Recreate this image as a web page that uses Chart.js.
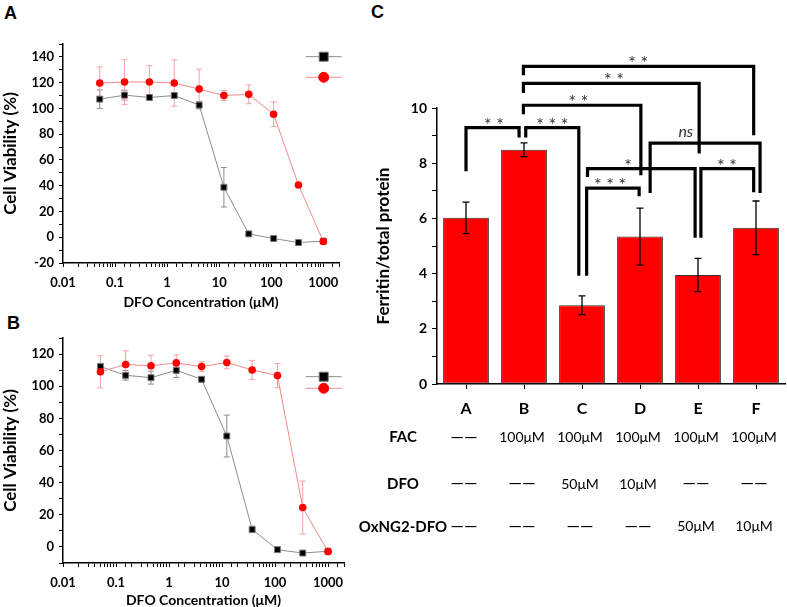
<!DOCTYPE html>
<html>
<head>
<meta charset="utf-8">
<title>DFO viability and ferritin</title>
<script src="https://cdn.jsdelivr.net/npm/chart.js@4.4.1/dist/chart.umd.min.js"></script>
<style>
    body { margin: 0; background: #fff; width: 787px; height: 607px; position: relative; overflow: hidden; }
    canvas { position: absolute; }
    .panel { position: absolute; font: bold 18px "Liberation Sans", Arial, sans-serif; line-height: 1; color: #000; }
</style>
</head>
<body>
<div class="panel" style="left:4px;top:4px">A</div>
<div class="panel" style="left:7px;top:314px">B</div>
<div class="panel" style="left:371px;top:3px">C</div>
<canvas id="chartA" width="370" height="309" style="left:0;top:0"></canvas>
<canvas id="chartB" width="370" height="297" style="left:0;top:310px"></canvas>
<canvas id="chartC" width="447" height="545" style="left:340px;top:0"></canvas>
<script>
// Concentrations (uM), 3-fold dilutions from 1000
const concentrations = [0.0508, 0.152, 0.457, 1.37, 4.12, 12.3, 37.0, 111, 333, 1000];

// Panel A
const dfoA = [107.2, 110.3, 108.5, 110.0, 102.6, 38.8, 2.6, -1.0, -4.1, -3.0];
const dfoErrA = [7.2, 3.8, 1.5, 2, 2.9, 15.3, 1.5, 1, 1, 1];
const oxA = [119.7, 120.5, 120.5, 119.7, 115.0, 110.0, 110.9, 95.5, 40.6, -3.3];
const oxErrA = [12.5, 17.4, 12.7, 18, 15.4, 3.9, 7.3, 9.6, 1.5, 1];

// Panel B
const dfoB = [112.2, 106.8, 105.3, 109.9, 104.3, 69.0, 10.9, -1.7, -3.8, -2.7];
const dfoErrB = [2, 3, 4, 4.5, 1.5, 13, 2, 1, 1, 1];
const oxB = [109.0, 113.5, 112.7, 114.5, 112.2, 114.8, 110.1, 106.6, 24.5, -2.9];
const oxErrB = [10, 8.5, 6.5, 5, 3, 4, 6, 7.5, 16.5, 1];

// Panel C
const groups = ['A', 'B', 'C', 'D', 'E', 'F'];
const ferritin = [6.02, 8.49, 2.85, 5.34, 3.95, 5.66];
const ferritinErr = [0.57, 0.25, 0.34, 1.03, 0.60, 0.97];
const rowNames = ['FAC', 'DFO', 'OxNG2-DFO'];
const facRow = ['——', '100μM', '100μM', '100μM', '100μM', '100μM'];
const dfoRow = ['——', '——', '50μM', '10μM', '——', '——'];
const oxRow = ['——', '——', '——', '——', '50μM', '10μM'];

// significance brackets: legs at category positions, bar height and leg ends in axis units
const brackets = [
    { from: 0.0, to: 0.915, y: 9.29, endL: 7.71, endR: 8.93, text: '**', lx: 0.48 },
    { from: 1.03, to: 1.945, y: 9.29, endL: 8.93, endR: 3.92, text: '***', lx: 1.49 },
    { from: 0.99, to: 3.015, y: 10.10, endL: 9.77, endR: 7.56, text: '**', lx: 1.94 },
    { from: 0.99, to: 4.02, y: 10.89, endL: 10.54, endR: 8.35, text: '**', lx: 2.55 },
    { from: 0.99, to: 4.96, y: 11.51, endL: 11.19, endR: 9.01, text: '**', lx: 2.97 },
    { from: 2.08, to: 2.985, y: 7.10, endL: 3.92, endR: 6.80, text: '***', lx: 2.485 },
    { from: 2.095, to: 3.95, y: 7.80, endL: 7.50, endR: 5.30, text: '*', lx: 2.795 },
    { from: 3.175, to: 5.07, y: 8.73, endL: 6.92, endR: 6.92, text: 'ns', lx: 3.79 },
    { from: 4.05, to: 4.96, y: 7.80, endL: 5.30, endR: 6.95, text: '**', lx: 4.5 }
];

const FONT = 'Lato, "Open Sans", sans-serif';

// Error bars drawn through the y scale
function drawErrors(chart) {
    const ctx = chart.ctx;
    const yScale = chart.scales.y;
    chart.data.datasets.forEach((ds, di) => {
        if (!ds.errors) return;
        const meta = chart.getDatasetMeta(di);
        ctx.save();
        ctx.strokeStyle = ds.errorColor;
        ctx.lineWidth = ds.errorWidth || 1;
        meta.data.forEach((el, i) => {
            const raw = ds.data[i];
            const v = typeof raw === 'object' ? raw.y : raw;
            const top = yScale.getPixelForValue(v + ds.errors[i]);
            const bot = yScale.getPixelForValue(v - ds.errors[i]);
            const cw = ds.capWidth || 3;
            ctx.beginPath();
            ctx.moveTo(el.x, top); ctx.lineTo(el.x, bot);
            ctx.moveTo(el.x - cw, top); ctx.lineTo(el.x + cw, top);
            ctx.moveTo(el.x - cw, bot); ctx.lineTo(el.x + cw, bot);
            ctx.stroke();
        });
        ctx.restore();
    });
}

const errorBars = {
    id: 'errorBars',
    beforeDatasetsDraw(chart) { if (chart.config.type === 'line') drawErrors(chart); },
    afterDatasetsDraw(chart) { if (chart.config.type === 'bar') drawErrors(chart); }
};

// Text-less legend: line + marker per dataset
const markerLegend = {
    id: 'markerLegend',
    afterDraw(chart, args, opts) {
        if (!opts.rows) return;
        const ctx = chart.ctx;
        const xc = (opts.x1 + opts.x2) / 2;
        chart.data.datasets.forEach((ds, i) => {
            const y = opts.rows[i];
            ctx.save();
            ctx.strokeStyle = ds.borderColor;
            ctx.lineWidth = 1;
            ctx.beginPath();
            ctx.moveTo(opts.x1, y); ctx.lineTo(opts.x2, y);
            ctx.stroke();
            ctx.fillStyle = ds.pointBackgroundColor;
            ctx.strokeStyle = ds.pointBorderColor;
            Chart.helpers.drawPoint(ctx, {
                pointStyle: ds.pointStyle, radius: ds.pointStyle === 'rect' ? 6.4 : 5,
                rotation: 0, borderWidth: 1
            }, xc, y);
            ctx.restore();
        });
    }
};

function isMultiple(v, step) {
    return Math.abs(v / step - Math.round(v / step)) < 1e-6;
}

function viabilityChart(id, dfo, dfoErr, ox, oxErr, yMin, yMax, pad, xHeight, legendRows) {
    const tickFont = { family: FONT, size: 13, weight: 'bold' };
    return new Chart(document.getElementById(id), {
        type: 'line',
        data: {
            datasets: [{
                data: concentrations.map((c, i) => ({ x: c, y: dfo[i] })),
                errors: dfoErr,
                errorColor: '#8c8c8c',
                borderColor: '#8c8c8c',
                borderWidth: 1,
                pointStyle: 'rect',
                pointRadius: 4.2,
                pointBackgroundColor: '#000',
                pointBorderColor: '#777',
                pointBorderWidth: 1,
                order: 2
            }, {
                data: concentrations.map((c, i) => ({ x: c, y: ox[i] })),
                errors: oxErr,
                errorColor: '#f5a3a3',
                borderColor: '#f08a8a',
                borderWidth: 1,
                pointStyle: 'circle',
                pointRadius: 3.8,
                pointBackgroundColor: '#ff0000',
                pointBorderColor: '#ff0000',
                pointBorderWidth: 0,
                order: 1
            }]
        },
        options: {
            responsive: false,
            animation: false,
            layout: { padding: pad },
            plugins: {
                legend: { display: false },
                tooltip: { enabled: false },
                markerLegend: legendRows
            },
            scales: {
                x: {
                    type: 'logarithmic',
                    min: 0.01,
                    max: 2000,
                    border: { display: true, color: '#000', width: 1.5 },
                    grid: { drawOnChartArea: false, tickLength: 4, color: '#000' },
                    ticks: {
                        autoSkip: false,
                        maxRotation: 0,
                        padding: 8,
                        color: '#000',
                        font: tickFont,
                        callback: v => {
                            const p = Math.log10(v);
                            return Math.abs(p - Math.round(p)) < 1e-6 ? String(+v.toPrecision(3)) : '';
                        }
                    },
                    title: {
                        display: true,
                        text: 'DFO Concentration (μM)',
                        color: '#000',
                        font: { family: FONT, size: 14, weight: 'bold', lineHeight: 1 },
                        padding: 0
                    },
                    afterFit: s => { s.height = xHeight; }
                },
                y: {
                    min: yMin,
                    max: yMax,
                    border: { display: true, color: '#000', width: 1.5 },
                    grid: { drawOnChartArea: false, tickLength: 4, color: '#000' },
                    ticks: {
                        stepSize: 10,
                        autoSkip: false,
                        padding: 5,
                        color: '#000',
                        font: tickFont,
                        callback: v => (isMultiple(v, 20) ? Math.round(v) : '')
                    },
                    title: {
                        display: true,
                        text: 'Cell Viability (%)',
                        color: '#000',
                        font: { family: FONT, size: 17, weight: 'bold', lineHeight: 1 },
                        padding: { top: 2, bottom: 0 }
                    },
                    afterFit: s => { s.width = 63; }
                }
            }
        },
        plugins: [errorBars, markerLegend]
    });
}

viabilityChart('chartA', dfoA, dfoErrA, oxA, oxErrA, -20, 150,
    { top: 44, right: 31, left: 0, bottom: 0 }, 46,
    { rows: [56.7, 77.3], x1: 305.7, x2: 341.7 });

viabilityChart('chartB', dfoB, dfoErrB, oxB, oxErrB, -10, 130,
    { top: 28, right: 26, left: 0, bottom: 0 }, 44,
    { rows: [66.7, 78.3], x1: 305.7, x2: 341.7 });

// Significance brackets over the bars
const bracketPlugin = {
    id: 'brackets',
    afterDatasetsDraw(chart) {
        const ctx = chart.ctx;
        const xs = chart.scales.x, ys = chart.scales.y;
        const px = c => xs.getPixelForValue(0) + c * (xs.getPixelForValue(1) - xs.getPixelForValue(0));
        ctx.save();
        brackets.forEach(b => {
            const yLine = ys.getPixelForValue(b.y);
            ctx.strokeStyle = '#000';
            ctx.lineWidth = 3.2;
            ctx.lineJoin = 'miter';
            ctx.beginPath();
            ctx.moveTo(px(b.from), ys.getPixelForValue(b.endL));
            ctx.lineTo(px(b.from), yLine);
            ctx.lineTo(px(b.to), yLine);
            ctx.lineTo(px(b.to), ys.getPixelForValue(b.endR));
            ctx.stroke();
            ctx.fillStyle = '#333';
            ctx.textAlign = 'center';
            ctx.textBaseline = 'alphabetic';
            if (b.text === 'ns') {
                ctx.font = 'italic 16px ' + FONT;
                ctx.fillText(b.text, px(b.lx), yLine - 6);
            } else {
                ctx.font = '18px ' + FONT;
                ctx.fillText(b.text.split('').join(' '), px(b.lx), yLine + 3);
            }
        });
        ctx.restore();
    }
};

// Treatment table under the bars
const tablePlugin = {
    id: 'treatmentTable',
    afterDraw(chart) {
        const ctx = chart.ctx;
        const xs = chart.scales.x;
        const rows = [facRow, dfoRow, oxRow];
        const rowY = [437.3, 484, 526.7];
        ctx.save();
        ctx.fillStyle = '#000';
        ctx.textAlign = 'center';
        ctx.textBaseline = 'middle';
        rows.forEach((row, r) => {
            ctx.font = 'bold 15px ' + FONT;
            ctx.fillText(rowNames[r], 63, rowY[r]);
            row.forEach((txt, i) => {
                ctx.font = (txt === '——' ? '17px ' : '14px ') + FONT;
                ctx.fillText(txt, xs.getPixelForValue(i) - 2, rowY[r]);
            });
        });
        ctx.restore();
    }
};

new Chart(document.getElementById('chartC'), {
    type: 'bar',
    data: {
        labels: groups,
        datasets: [{
            data: ferritin,
            errors: ferritinErr,
            errorColor: '#000',
            errorWidth: 1.3,
            capWidth: 3.5,
            backgroundColor: '#ff0000',
            borderColor: '#333',
            borderWidth: 1,
            borderSkipped: false,
            categoryPercentage: 1,
            barPercentage: 0.79
        }]
    },
    options: {
        responsive: false,
        animation: false,
        layout: { padding: { top: 108, right: 2, left: 0, bottom: 0 } },
        plugins: { legend: { display: false }, tooltip: { enabled: false } },
        scales: {
            x: {
                border: { display: true, color: '#000', width: 1.5 },
                grid: { drawOnChartArea: false, offset: false, tickLength: 5, color: '#000' },
                ticks: { padding: 10, color: '#000', font: { family: FONT, size: 16, weight: 'bold' } },
                afterFit: s => { s.height = 161; }
            },
            y: {
                min: 0,
                max: 10,
                border: { display: true, color: '#000', width: 1.5 },
                grid: { drawOnChartArea: false, tickLength: 5, color: '#000' },
                ticks: {
                    stepSize: 1,
                    autoSkip: false,
                    padding: 5,
                    color: '#000',
                    font: { family: FONT, size: 14, weight: 'bold' },
                    callback: v => (isMultiple(v, 2) ? Math.round(v) : '')
                },
                title: {
                    display: true,
                    text: 'Ferritin/total protein',
                    color: '#000',
                    font: { family: FONT, size: 17, weight: 'bold', lineHeight: 1 },
                    padding: { top: 35, bottom: 0 }
                },
                afterFit: s => { s.width = 97; }
            }
        }
    },
    plugins: [errorBars, bracketPlugin, tablePlugin]
});
</script>
</body>
</html>
